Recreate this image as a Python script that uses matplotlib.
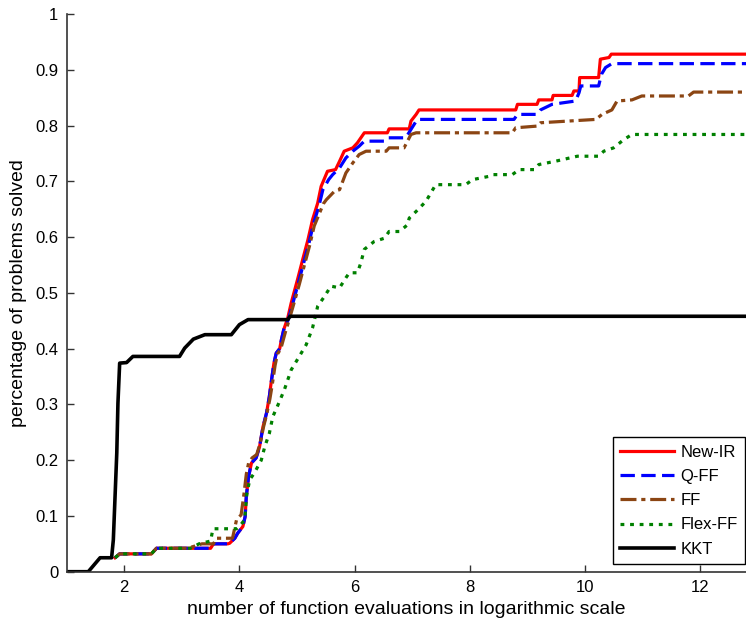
import numpy as np
import matplotlib
matplotlib.use("Agg")
import matplotlib.pyplot as plt

plt.rcParams['font.family'] = ['Liberation Sans', 'DejaVu Sans']

labels = ["New-IR", "Q-FF", "FF", "Flex-FF", "KKT"]

newir_x = [1.84, 1.92, 2.47, 2.56, 3.05, 3.5, 3.55, 3.8, 3.83, 3.92, 3.97, 4.06, 4.10, 4.12, 4.16,
           4.21, 4.29, 4.35, 4.41, 4.47, 4.52, 4.55, 4.60, 4.64, 4.70, 4.73, 4.77, 4.84, 4.90, 5.01,
           5.10, 5.19, 5.27, 5.36, 5.42, 5.53, 5.67, 5.74, 5.82, 5.97, 6.05, 6.17, 6.57, 6.60, 6.95,
           6.98, 7.07, 7.12, 8.80, 8.83, 9.17, 9.20, 9.43, 9.45, 9.78, 9.81, 9.90, 9.91, 10.24, 10.27,
           10.42, 10.46, 12.8]
newir_y = [0.025, 0.032, 0.032, 0.042, 0.042, 0.042, 0.05, 0.05, 0.051, 0.06, 0.069, 0.081, 0.099,
           0.135, 0.171, 0.195, 0.204, 0.224, 0.26, 0.284, 0.314, 0.338, 0.374, 0.392, 0.40, 0.416,
           0.434, 0.455, 0.482, 0.524, 0.56, 0.595, 0.631, 0.661, 0.691, 0.718, 0.721, 0.736, 0.754,
           0.76, 0.769, 0.787, 0.787, 0.794, 0.794, 0.808, 0.82, 0.828, 0.828, 0.838, 0.838, 0.846,
           0.846, 0.854, 0.854, 0.862, 0.862, 0.886, 0.886, 0.919, 0.922, 0.928, 0.928]

qff_x = [1.84, 1.92, 2.47, 2.56, 3.05, 3.5, 3.55, 3.8, 3.83, 3.92, 3.97, 4.06, 4.10, 4.12, 4.16,
         4.21, 4.29, 4.35, 4.41, 4.47, 4.52, 4.55, 4.60, 4.64, 4.70, 4.73, 4.77, 4.85, 4.92, 5.03,
         5.12, 5.21, 5.29, 5.38, 5.45, 5.55, 5.62, 5.74, 5.85, 5.97, 6.08, 6.17, 6.52, 6.57, 6.89,
         6.98, 7.09, 7.15, 8.77, 8.83, 9.17, 9.23, 9.43, 9.84, 9.90, 9.93, 10.24, 10.29, 10.36,
         10.47, 12.8]
qff_y = [0.025, 0.032, 0.032, 0.042, 0.042, 0.042, 0.05, 0.05, 0.051, 0.06, 0.069, 0.081, 0.099,
         0.135, 0.171, 0.195, 0.204, 0.224, 0.26, 0.284, 0.314, 0.338, 0.374, 0.392, 0.40, 0.416,
         0.434, 0.452, 0.478, 0.52, 0.555, 0.59, 0.625, 0.655, 0.685, 0.703, 0.712, 0.724, 0.742,
         0.754, 0.763, 0.772, 0.772, 0.778, 0.778, 0.793, 0.811, 0.811, 0.811, 0.82, 0.82, 0.828,
         0.838, 0.844, 0.859, 0.871, 0.871, 0.892, 0.904, 0.911, 0.911]

ff_x = [1.84, 1.92, 2.47, 2.56, 3.1, 3.35, 3.55, 3.6, 3.88, 3.95, 4.03, 4.08, 4.12, 4.16, 4.22,
        4.30, 4.36, 4.42, 4.48, 4.53, 4.57, 4.62, 4.66, 4.72, 4.76, 4.80, 4.86, 4.93, 5.04, 5.13,
        5.22, 5.30, 5.40, 5.46, 5.51, 5.65, 5.74, 5.85, 5.97, 6.08, 6.20, 6.55, 6.60, 6.86, 6.92,
        6.98, 7.07, 8.74, 8.80, 9.17, 9.23, 10.19, 10.30, 10.47, 10.56, 10.82, 10.99, 11.80, 11.89,
        12.8]
ff_y = [0.025, 0.032, 0.032, 0.042, 0.042, 0.05, 0.05, 0.06, 0.06, 0.093, 0.102, 0.14, 0.175,
        0.195, 0.204, 0.21, 0.23, 0.26, 0.285, 0.31, 0.335, 0.37, 0.39, 0.40, 0.415, 0.43, 0.45,
        0.475, 0.515, 0.55, 0.585, 0.62, 0.645, 0.66, 0.667, 0.682, 0.685, 0.715, 0.733, 0.748,
        0.754, 0.754, 0.76, 0.76, 0.772, 0.784, 0.787, 0.787, 0.796, 0.799, 0.805, 0.811, 0.82,
        0.828, 0.844, 0.846, 0.853, 0.853, 0.86, 0.86]

flex_x = [1.84, 1.92, 2.47, 2.56, 3.15, 3.3, 3.5, 3.54, 3.95, 4.03, 4.09, 4.13, 4.18, 4.26, 4.38,
          4.44, 4.52, 4.58, 4.67, 4.78, 4.90, 5.04, 5.16, 5.27, 5.36, 5.48, 5.59, 5.74, 5.85, 5.91,
          6.05, 6.11, 6.17, 6.34, 6.52, 6.60, 6.78, 6.92, 6.95, 7.07, 7.24, 7.41, 7.93, 8.05, 8.34,
          8.39, 8.74, 8.86, 9.12, 9.20, 9.49, 9.87, 10.24, 10.33, 10.50, 10.68, 10.82, 12.8]
flex_y = [0.025, 0.032, 0.032, 0.042, 0.042, 0.05, 0.055, 0.077, 0.077, 0.085, 0.093, 0.14, 0.165,
          0.177, 0.2, 0.224, 0.248, 0.278, 0.299, 0.326, 0.362, 0.386, 0.407, 0.437, 0.476, 0.494,
          0.512, 0.509, 0.527, 0.536, 0.536, 0.554, 0.578, 0.592, 0.598, 0.61, 0.61, 0.622, 0.634,
          0.646, 0.664, 0.694, 0.694, 0.703, 0.709, 0.712, 0.712, 0.721, 0.721, 0.73, 0.736, 0.745,
          0.745, 0.754, 0.76, 0.775, 0.784, 0.784]

kkt_x = [1.0, 1.375, 1.58, 1.78, 1.81, 1.87, 1.89, 1.92, 2.04, 2.15, 2.96, 3.05, 3.2, 3.4, 3.86,
         4.0, 4.15, 4.84, 4.88, 12.8]
kkt_y = [0, 0, 0.025, 0.025, 0.057, 0.213, 0.302, 0.374, 0.375, 0.386, 0.386, 0.401, 0.417, 0.425,
         0.425, 0.443, 0.452, 0.452, 0.458, 0.458]

fig = plt.figure(figsize=(7.46, 6.26), dpi=100)
ax = fig.add_axes([66.7/746, 1-571.7/626, 1-66.7/746, 557.7/626])

lw = 2.3
ax.plot(newir_x, newir_y, color='#ff0000', lw=lw, label=labels[0])
ax.plot(qff_x, qff_y, color='#0000ff', lw=lw, dashes=(4.5, 2.0), label=labels[1])
ax.plot(ff_x, ff_y, color='#8b4513', lw=lw, dashes=(5, 1.5, 1.3, 1.5), label=labels[2])
ax.plot(flex_x, flex_y, color='#008000', lw=lw, dashes=(1.2, 1.8), label=labels[3])
ax.plot(kkt_x, kkt_y, color='black', lw=2.6, label=labels[4])

ax.set_xlim(1, 12.8)
ax.set_ylim(0, 1)
ax.set_xticks([2, 4, 6, 8, 10, 12])
ax.set_yticks(np.arange(0, 1.01, 0.1))
ax.set_yticklabels(['0', '0.1', '0.2', '0.3', '0.4', '0.5', '0.6', '0.7', '0.8', '0.9', '1'])
ax.tick_params(direction='in', length=5, width=1, labelsize=12, color='#333333', pad=6)
for s in ['top', 'right']:
    ax.spines[s].set_visible(False)
for s in ['left', 'bottom']:
    ax.spines[s].set_color('#333333')
    ax.spines[s].set_linewidth(1.2)

ax.set_xlabel("number of function evaluations in logarithmic scale", fontsize=14, labelpad=4)
ax.set_ylabel("percentage of problems solved", fontsize=14, labelpad=6)

leg = fig.legend(loc='lower right', bbox_to_anchor=(745/746, 1-564/626), fontsize=12,
                 handlelength=3.2, handletextpad=0.4, labelspacing=0.55, borderpad=0.45,
                 borderaxespad=0, fancybox=False, framealpha=1, edgecolor='black')
leg.get_frame().set_linewidth(1.0)

fig.savefig("out.png", dpi=100)
